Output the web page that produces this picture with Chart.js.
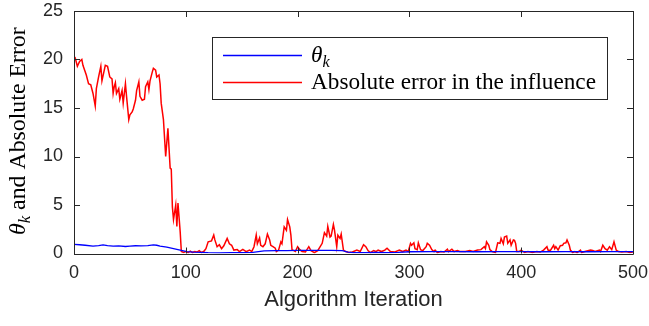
<!DOCTYPE html>
<html>
<head>
<meta charset="utf-8">
<script src="https://cdn.jsdelivr.net/npm/chart.js@4"></script>
<style>
  html, body { margin: 0; padding: 0; background: #fff; }
  canvas { display: block; }
</style>
</head>
<body>
<canvas id="myChart" width="649" height="326"></canvas>
<script>
const xTicks = [0, 100, 200, 300, 400, 500];
const yTicks = [0, 5, 10, 15, 20, 25];

// theta_k (blue)
const thetaIter = [0, 5, 10, 17, 22, 26, 30, 35, 40, 46, 50, 55, 60, 66, 71, 74, 77, 83, 89, 95,
  101, 107, 113, 120, 130, 140, 150, 160, 165, 170, 180, 190, 200, 210, 220, 230, 240, 245, 250,
  260, 270, 280, 290, 300, 320, 340, 360, 380, 400, 420, 440, 460, 480, 500];
const thetaVal = [0.95, 0.9, 0.85, 0.76, 0.82, 0.88, 0.82, 0.76, 0.78, 0.72, 0.75, 0.8, 0.78, 0.82,
  0.88, 0.85, 0.76, 0.65, 0.5, 0.35, 0.2, 0.15, 0.12, 0.08, 0.06, 0.08, 0.1, 0.12, 0.2, 0.28, 0.3,
  0.3, 0.32, 0.33, 0.32, 0.33, 0.3, 0.15, 0.1, 0.1, 0.12, 0.1, 0.12, 0.18, 0.2, 0.2, 0.18, 0.2,
  0.2, 0.18, 0.2, 0.18, 0.2, 0.2];

// absolute error in the influence (red)
const errIter = [0, 1, 3, 5, 7, 8, 11, 13, 15, 17, 19, 20, 22, 24, 25, 28, 30, 32, 34, 35, 36, 37,
  38, 40, 41, 43, 44, 46, 47, 49, 50, 52, 53, 55, 56, 58, 59, 61, 63, 64, 66, 67, 68, 70, 71, 73,
  74, 76, 77, 78, 80, 82, 84, 86, 87, 88, 89, 91, 92, 93, 95, 96, 98, 100, 102, 104, 106, 108, 110,
  112, 114, 116, 118, 120, 123, 125, 126, 128, 130, 132, 134, 137, 139, 141, 143, 146, 148, 151,
  154, 157, 159, 161, 163, 164, 166, 167, 169, 171, 173, 175, 176, 178, 180, 181, 183, 185, 186,
  188, 190, 191, 193, 194, 195, 198, 200, 202, 204, 207, 210, 212, 215, 218, 222, 224, 226, 227,
  229, 230, 232, 233, 235, 236, 238, 239, 241, 243, 246, 249, 253, 256, 259, 261, 263, 265, 268,
  270, 272, 275, 278, 280, 283, 287, 291, 294, 297, 299, 301, 302, 304, 305, 307, 308, 310, 312,
  315, 316, 318, 320, 322, 323, 325, 328, 331, 334, 335, 338, 340, 343, 345, 350, 354, 357, 361,
  364, 367, 368, 369, 371, 372, 374, 377, 379, 381, 382, 384, 385, 387, 388, 390, 391, 393, 394,
  395, 396, 398, 400, 403, 406, 410, 414, 417, 420, 423, 424, 426, 429, 430, 431, 433, 435, 437,
  438, 440, 441, 443, 444, 446, 448, 450, 453, 454, 457, 462, 464, 466, 470, 471, 473, 475, 477,
  479, 481, 483, 485, 487, 490, 494, 497, 500];
const errVal = [20.3, 20.2, 19.3, 19.8, 20.0, 19.4, 18.4, 17.5, 17.4, 16.5, 15.2, 17.0, 18.2, 19.3,
  17.8, 19.4, 19.3, 18.2, 18.0, 16.5, 17.2, 17.6, 16.5, 17.0, 15.9, 16.8, 15.5, 17.5, 16.2, 13.8,
  14.3, 14.6, 14.9, 15.8, 16.8, 17.7, 16.2, 15.8, 15.9, 17.2, 17.7, 16.9, 17.8, 18.7, 19.1, 18.9,
  18.2, 18.4, 17.5, 15.5, 13.8, 10.0, 12.9, 8.8, 8.7, 4.8, 3.5, 5.0, 2.8, 5.2, 2.2, 0.2, 0.1, 0.2,
  0.1, 0.25, 0.1, 0.2, 0.15, 0.3, 0.1, 0.2, 0.5, 1.2, 1.3, 1.9, 1.4, 0.7, 0.9, 0.5, 0.8, 1.55, 1.0,
  0.85, 0.35, 0.4, 0.2, 0.43, 0.2, 0.36, 0.2, 0.7, 1.9, 1.0, 1.6, 0.85, 0.7, 1.0, 2.0, 1.4, 0.85,
  0.7, 0.55, 0.2, 0.35, 1.2, 1.0, 2.75, 2.4, 3.5, 2.75, 1.9, 0.4, 0.2, 0.7, 0.4, 0.2, 0.15, 0.7,
  0.3, 0.1, 0.3, 1.05, 2.15, 1.8, 2.8, 1.7, 1.8, 3.0, 2.4, 0.7, 1.9, 1.55, 2.0, 0.35, 0.2, 0.1,
  0.15, 0.35, 0.2, 0.9, 0.7, 0.3, 0.1, 0.3, 0.2, 0.35, 0.2, 0.35, 0.55, 0.2, 0.15, 0.35, 0.2,
  0.35, 0.2, 1.05, 0.85, 1.1, 0.5, 0.4, 1.1, 0.4, 0.3, 0.7, 1.05, 0.85, 0.4, 0.2, 0.35, 0.1, 0.2,
  0.15, 0.45, 0.2, 0.45, 0.2, 0.3, 0.2, 0.2, 0.3, 0.2, 0.35, 0.4, 0.7, 0.5, 1.2, 0.85, 0.4, 0.2,
  0.1, 1.1, 1.05, 1.55, 1.0, 1.7, 1.8, 1.05, 1.4, 0.85, 1.4, 1.35, 1.05, 0.2, 0.2, 0.35, 0.1, 0.2,
  0.1, 0.2, 0.15, 0.35, 0.7, 0.35, 0.3, 0.85, 0.5, 0.7, 0.35, 0.8, 0.85, 1.05, 1.1, 1.4, 0.85,
  0.35, 0.1, 0.2, 0.1, 0.35, 0.1, 0.2, 0.35, 0.3, 0.2, 0.35, 0.2, 0.85, 0.5, 0.35, 0.7, 0.4, 1.2,
  0.35, 0.2, 0.15, 0.2, 0.1, 0.15];

const axisColor = "#262626";
const sansFont = "Liberation Sans, Arial, sans-serif";
const serifFont = "Liberation Serif, Times New Roman, serif";

const toPoints = (xs, ys) => xs.map((x, i) => ({ x: x, y: ys[i] }));

// fit a serif string to a given width
const fitFont = (ctx, text, width, style) => {
  ctx.font = `${style} 20px ${serifFont}`;
  const w = ctx.measureText(text).width;
  return (20 * width) / w;
};

// theta with italic subscript k, returns end x
const drawTheta = (ctx, x, y, size) => {
  ctx.font = `italic ${size}px ${serifFont}`;
  ctx.fillText("θ", x, y);
  const w = ctx.measureText("θ").width;
  ctx.font = `italic ${size * 0.7}px ${serifFont}`;
  ctx.fillText("k", x + w, y + size * 0.22);
  return x + w + ctx.measureText("k").width;
};

const matlabAxes = {
  id: "matlabAxes",
  afterDraw: (chart) => {
    const { ctx, chartArea: a, scales } = chart;
    ctx.save();
    ctx.strokeStyle = axisColor;
    ctx.lineWidth = 1;
    ctx.beginPath();
    ctx.rect(Math.round(a.left) + 0.5, Math.round(a.top) + 0.5,
      Math.round(a.right - a.left), Math.round(a.bottom - a.top));
    ctx.stroke();

    // inward ticks on all four sides
    const tl = 6;
    ctx.beginPath();
    xTicks.forEach((v) => {
      const px = Math.round(scales.x.getPixelForValue(v)) + 0.5;
      ctx.moveTo(px, a.bottom);
      ctx.lineTo(px, a.bottom - tl);
      ctx.moveTo(px, a.top);
      ctx.lineTo(px, a.top + tl);
    });
    yTicks.forEach((v) => {
      const py = Math.round(scales.y.getPixelForValue(v)) + 0.5;
      ctx.moveTo(a.left, py);
      ctx.lineTo(a.left + tl, py);
      ctx.moveTo(a.right, py);
      ctx.lineTo(a.right - tl, py);
    });
    ctx.stroke();

    // x title
    ctx.fillStyle = axisColor;
    ctx.font = `22px ${sansFont}`;
    ctx.textAlign = "center";
    ctx.textBaseline = "alphabetic";
    ctx.fillText("Algorithm Iteration", (a.left + a.right) / 2, 306);

    // y title, rotated
    ctx.save();
    ctx.translate(25, 235);
    ctx.rotate(-Math.PI / 2);
    ctx.textAlign = "left";
    ctx.fillStyle = "#000";
    const ySize = fitFont(ctx, "θk and Absolute Error", 212, "");
    let ex = drawTheta(ctx, 0, 0, ySize);
    ctx.font = `${ySize}px ${serifFont}`;
    ctx.fillText(" and Absolute Error", ex, 0);
    ctx.restore();

    // legend box
    const lx = 212.5, ly = 37.5, lw = 395, lh = 62;
    ctx.fillStyle = "#fff";
    ctx.fillRect(lx, ly, lw, lh);
    ctx.strokeStyle = axisColor;
    ctx.strokeRect(lx, ly, lw, lh);
    ctx.lineWidth = 1.5;
    ctx.strokeStyle = "#0000ff";
    ctx.beginPath();
    ctx.moveTo(223, 55.5);
    ctx.lineTo(302, 55.5);
    ctx.stroke();
    ctx.strokeStyle = "#ff0000";
    ctx.beginPath();
    ctx.moveTo(223, 82.5);
    ctx.lineTo(302, 82.5);
    ctx.stroke();
    ctx.fillStyle = "#000";
    ctx.textAlign = "left";
    const lSize = fitFont(ctx, "Absolute error in the influence", 285, "");
    drawTheta(ctx, 311, 62, lSize);
    ctx.font = `${lSize}px ${serifFont}`;
    ctx.fillText("Absolute error in the influence", 311, 89);
    ctx.restore();
  },
};

const config = {
  type: "line",
  data: {
    datasets: [
      {
        label: "theta_k",
        data: toPoints(thetaIter, thetaVal),
        borderColor: "#0000ff",
        borderWidth: 1.3,
      },
      {
        label: "Absolute error in the influence",
        data: toPoints(errIter, errVal),
        borderColor: "#ff0000",
        borderWidth: 1.5,
      },
    ],
  },
  options: {
    responsive: false,
    animation: false,
    devicePixelRatio: 1,
    elements: {
      point: { radius: 0 },
      line: { tension: 0 },
    },
    layout: { padding: { top: 11, right: 16, left: 0, bottom: 0 } },
    plugins: {
      legend: { display: false },
      tooltip: { enabled: false },
    },
    scales: {
      x: {
        type: "linear",
        min: 0,
        max: 500,
        afterBuildTicks: (s) => { s.ticks = xTicks.map((v) => ({ value: v })); },
        afterFit: (s) => {
          s.height = 72.5;
          s.paddingLeft = 0;
          s.paddingRight = 0;
        },
        grid: { display: false, drawTicks: false },
        border: { display: false },
        ticks: { font: { size: 18, family: sansFont }, color: axisColor, padding: 9, maxRotation: 0 },
      },
      y: {
        min: 0,
        max: 25,
        afterBuildTicks: (s) => { s.ticks = yTicks.map((v) => ({ value: v })); },
        afterFit: (s) => {
          s.width = 74;
          s.paddingTop = 0;
          s.paddingBottom = 0;
        },
        grid: { display: false, drawTicks: false },
        border: { display: false },
        ticks: { font: { size: 18, family: sansFont }, color: axisColor, padding: 11 },
      },
    },
  },
  plugins: [matlabAxes],
};

const chart = new Chart(document.getElementById("myChart"), config);
</script>
</body>
</html>
